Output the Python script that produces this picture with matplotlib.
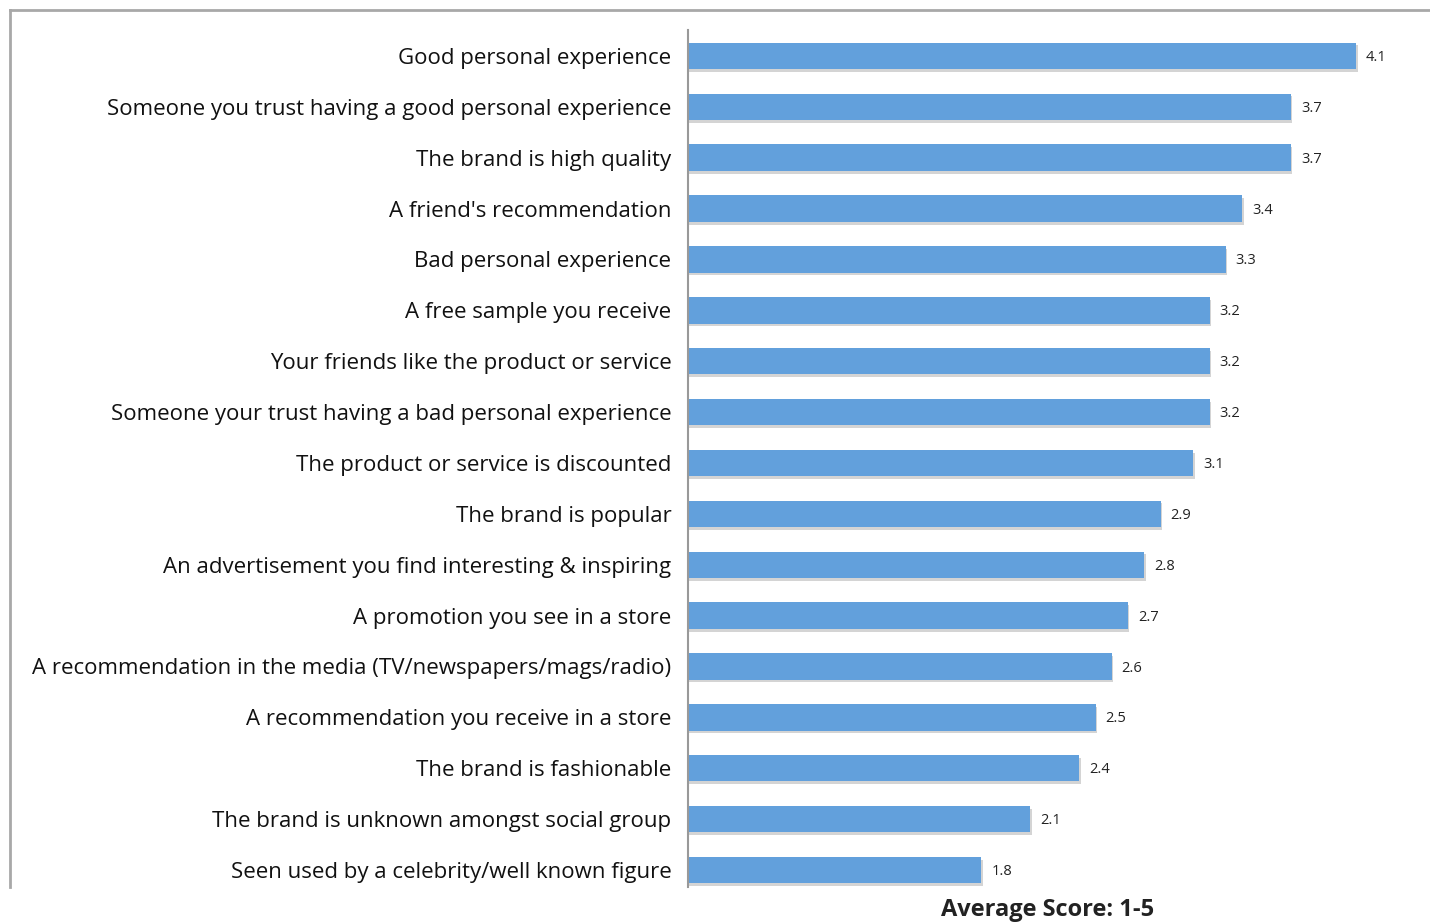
import numpy as np
import matplotlib.pyplot as plt
import matplotlib.patheffects as pe
from matplotlib.lines import Line2D

labels = [
    "Good personal experience",
    "Someone you trust having a good personal experience",
    "The brand is high quality",
    "A friend's recommendation",
    "Bad personal experience",
    "A free sample you receive",
    "Your friends like the product or service",
    "Someone your trust having a bad personal experience",
    "The product or service is discounted",
    "The brand is popular",
    "An advertisement you find interesting & inspiring",
    "A promotion you see in a store",
    "A recommendation in the media (TV/newspapers/mags/radio)",
    "A recommendation you receive in a store",
    "The brand is fashionable",
    "The brand is unknown amongst social group",
    "Seen used by a celebrity/well known figure",
]
scores = [4.1, 3.7, 3.7, 3.4, 3.3, 3.2, 3.2, 3.2, 3.1, 2.9, 2.8, 2.7, 2.6, 2.5, 2.4, 2.1, 1.8]

plt.rcParams['font.family'] = ['Open Sans', 'DejaVu Sans']

fig = plt.figure(figsize=(14.3, 9.24), dpi=100)
ax = fig.add_axes([688/1430, 37/924, 720/1430, 857/924])

y = np.arange(len(labels))
bars = ax.barh(y, scores, height=0.52, color='#62a0dc', zorder=2)
for b in bars:
    b.set_path_effects([pe.SimplePatchShadow(offset=(1, -2), shadow_rgbFace='#a0a0a0', alpha=0.45),
                        pe.Normal()])

for yi, v in zip(y, scores):
    ax.text(v + 0.06, yi + 0.03, f"{v:.1f}", va='center', ha='left', fontsize=10.5, color='#222222')

ax.set_ylim(len(labels) - 1 + 0.334, -0.51)
ax.set_xlim(0, 720/163)
ax.set_yticks(y)
ax.set_yticklabels(labels, fontsize=16, color='#111111')
ax.tick_params(axis='y', length=0, pad=12)
ax.set_xticks([])
for s in ['top', 'right', 'bottom']:
    ax.spines[s].set_visible(False)
ax.spines['left'].set_color('#999999')
ax.spines['left'].set_linewidth(1.5)

ax.set_xlabel("Average Score: 1-5", fontsize=17, fontweight='bold', color='#222222', labelpad=8)

# outer frame
fig.add_artist(Line2D([10/1430, 10/1430], [1 - 10/924, 1 - 887/924], transform=fig.transFigure,
                      color='#a8a8a8', lw=2))
fig.add_artist(Line2D([10/1430, 1.0], [1 - 10/924, 1 - 10/924], transform=fig.transFigure,
                      color='#a8a8a8', lw=2))

fig.savefig('out.png', dpi=100)
